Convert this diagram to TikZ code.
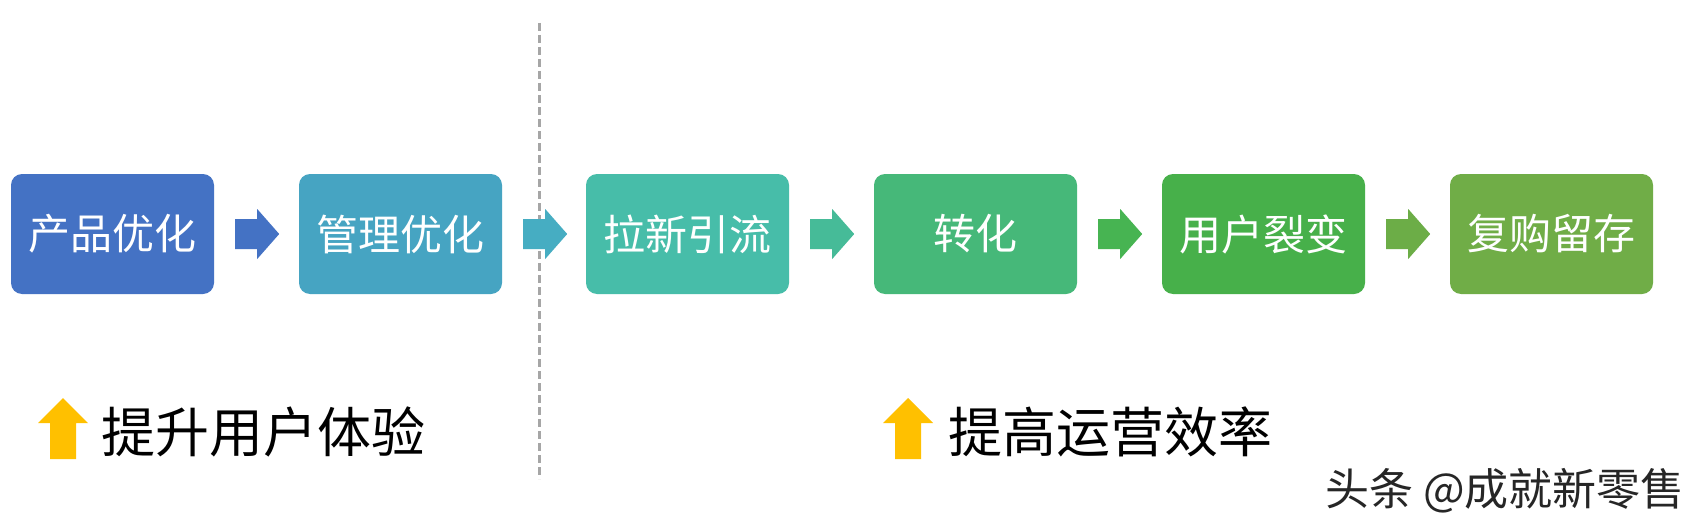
\documentclass[tikz,border=0pt]{standalone}
\usepackage{fontspec}
\setmainfont{Noto Sans CJK SC}
\usetikzlibrary{calc}
\definecolor{cA}{HTML}{4472C4}
\definecolor{cB}{HTML}{46A4C2}
\definecolor{cC}{HTML}{47BDA9}
\definecolor{cD}{HTML}{46B879}
\definecolor{cE}{HTML}{47B04A}
\definecolor{cF}{HTML}{70AD47}
\definecolor{aB}{HTML}{46ADC2}
\definecolor{aC}{HTML}{46BB98}
\definecolor{aD}{HTML}{47B452}
\definecolor{aE}{HTML}{6CAD47}
\definecolor{upyellow}{HTML}{FFC000}
\definecolor{divgray}{HTML}{A6A6A6}
\newcommand\blockarrow[2]{%
  \fill[#2] ($(#1.east)+(21,-15)$) -- ++(22,0) -- ++(0,-10) -- ++(22,25)
     -- ++(-22,25) -- ++(0,-10) -- ++(-22,0) -- cycle;}
\newcommand\uparrowshape[1]{%
  \fill[upyellow] (#1) -- ++(25,25) -- ++(-12,0) -- ++(0,36) -- ++(-26,0)
     -- ++(0,-36) -- ++(-12,0) -- cycle;}
\begin{document}
\begin{tikzpicture}[x=1pt,y=-1pt,
  stagebox/.style={rounded corners=11pt, minimum width=203pt, minimum height=120pt,
     inner sep=0pt, text=white, font=\fontsize{42pt}{50pt}\selectfont},
  biglabel/.style={anchor=west, inner sep=0pt, text=black,
     font=\fontsize{54pt}{62pt}\selectfont},
  divider/.style={draw=divgray, line width=3pt, dash pattern=on 8pt off 4pt}]
\useasboundingbox[fill=white] (0,0) rectangle (1695,527);
\node[stagebox, fill=cA] (b1) at (112.5,234) {产品优化};
\node[stagebox, fill=cB] (b2) at (400.5,234) {管理优化};
\node[stagebox, fill=cC] (b3) at (687.5,234) {拉新引流};
\node[stagebox, fill=cD] (b4) at (975.5,234) {转化};
\node[stagebox, fill=cE] (b5) at (1263.5,234) {用户裂变};
\node[stagebox, fill=cF] (b6) at (1551.5,234) {复购留存};
\coordinate (dtop) at (539,23);
\coordinate (dbot) at (539,479);
\draw[divider] (dtop) -- (dbot);
\blockarrow{b1}{cA}
\blockarrow{b2}{aB}
\blockarrow{b3}{aC}
\blockarrow{b4}{aD}
\blockarrow{b5}{aE}
\coordinate (up1) at (63,398);
\coordinate (up2) at (908,398);
\uparrowshape{up1}
\uparrowshape{up2}
\node[biglabel] (l1) at (101,432) {提升用户体验};
\node[biglabel] (l2) at (948,432) {提高运营效率};
\node[anchor=west, inner sep=0pt, text=black!85, font=\fontsize{44pt}{50pt}\selectfont] (wm) at (1325,491) {头条 @成就新零售};
\end{tikzpicture}
\end{document}
